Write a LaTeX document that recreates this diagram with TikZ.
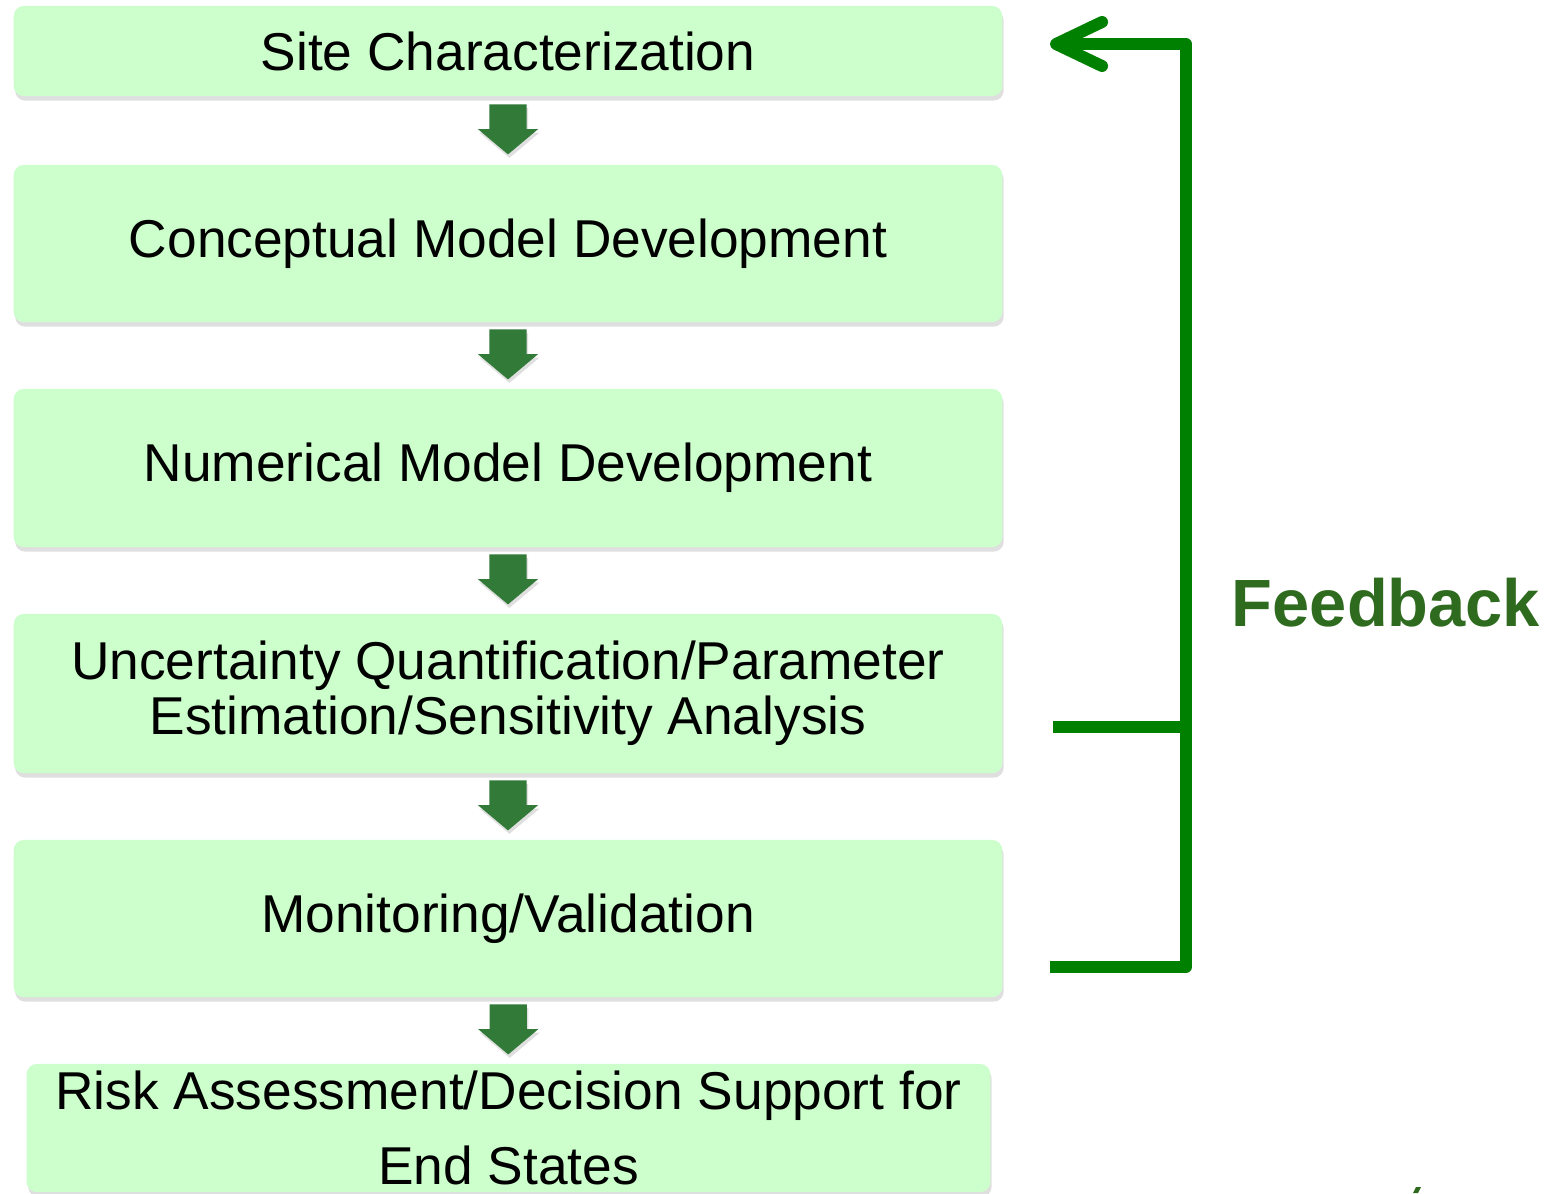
\documentclass[tikz,border=0pt]{standalone}
\usepackage{fontspec}
\setmainfont{Liberation Sans}
\usetikzlibrary{shapes.arrows,shadows,arrows.meta,calc}

\definecolor{stagefill}{HTML}{CCFFCC}
\definecolor{stagearrowfill}{HTML}{317A37}
\definecolor{fbgreen}{HTML}{008000}
\definecolor{fbtext}{HTML}{2F6B1F}

\tikzset{
  stage/.style={rectangle, rounded corners=0.1cm, fill=stagefill, minimum width=9.88cm,
    align=center, inner sep=0pt, font=\fontsize{15.15}{15.6}\selectfont,
    drop shadow={shadow xshift=0.4pt, shadow yshift=-1.3pt, opacity=0.25}},
  stagearrow/.style={shape=single arrow, rotate=-90, fill=stagearrowfill, inner xsep=0pt,
    inner ysep=0.18cm, minimum height=0.5cm, single arrow head extend=0.115cm,
    single arrow tip angle=100, drop shadow={shadow xshift=0.4pt, shadow yshift=-1pt, opacity=0.25}},
  fbline/.style={draw=fbgreen, line width=3.4pt, line join=round},
}

\begin{document}
\begin{tikzpicture}[x=0.01cm, y=-0.01cm]
\useasboundingbox (0,0) rectangle (1558,1193);

% workflow stages
\node (site) at (508,51) [stage, minimum height=0.90cm] {Site Characterization};
\node (concept) at (508,243.5) [stage, minimum height=1.57cm] {Conceptual Model Development};
\node (numer) at (508,468) [stage, minimum height=1.58cm] {Numerical Model Development};
\node (uq) at (508,693.5) [stage, minimum height=1.59cm] {Uncertainty Quantification/Parameter\\Estimation/Sensitivity Analysis};
\node (mon) at (508,918.5) [stage, minimum height=1.57cm] {Monitoring/Validation};
\node (risk) at (508.5,1128) [stage, minimum width=9.63cm, minimum height=1.28cm,
  font=\fontsize{15.15}{21.3}\selectfont] {Risk Assessment/Decision Support for\\End States};

% block arrows between stages
\node (a1) at ($(site.south)!0.5!(concept.north)+(0,-9)$) [stagearrow] {};
\node (a2) at ($(concept.south)!0.5!(numer.north)+(0,-9)$) [stagearrow] {};
\node (a3) at ($(numer.south)!0.5!(uq.north)+(0,-9)$) [stagearrow] {};
\node (a4) at ($(uq.south)!0.5!(mon.north)+(0,-9)$) [stagearrow] {};
\node (a5) at ($(mon.south)!0.5!(risk.north)+(0,-9)$) [stagearrow] {};

% feedback loop
\coordinate (fbtip) at (1050,44);
\coordinate (fbcorner) at (1186,44);
\coordinate (fbuq) at (1053,727);
\coordinate (fbmon) at (1050,967);
\draw [fbline, -{Straight Barb[length=0.46cm, width=0.44cm, round]}]
  (fbmon) -- (fbmon -| fbcorner) -- (fbcorner) -- (fbtip);
\draw [fbline] (fbuq) -- (fbuq -| fbcorner);
\node (fblabel) at (1386,603) [text=fbtext, font=\fontsize{19.0}{21}\selectfont\bfseries] {Feedback};

\fill [fbtext] (1413,1193) -- (1416,1187) -- (1421,1187) -- (1418,1193) -- cycle;
\end{tikzpicture}
\end{document}
